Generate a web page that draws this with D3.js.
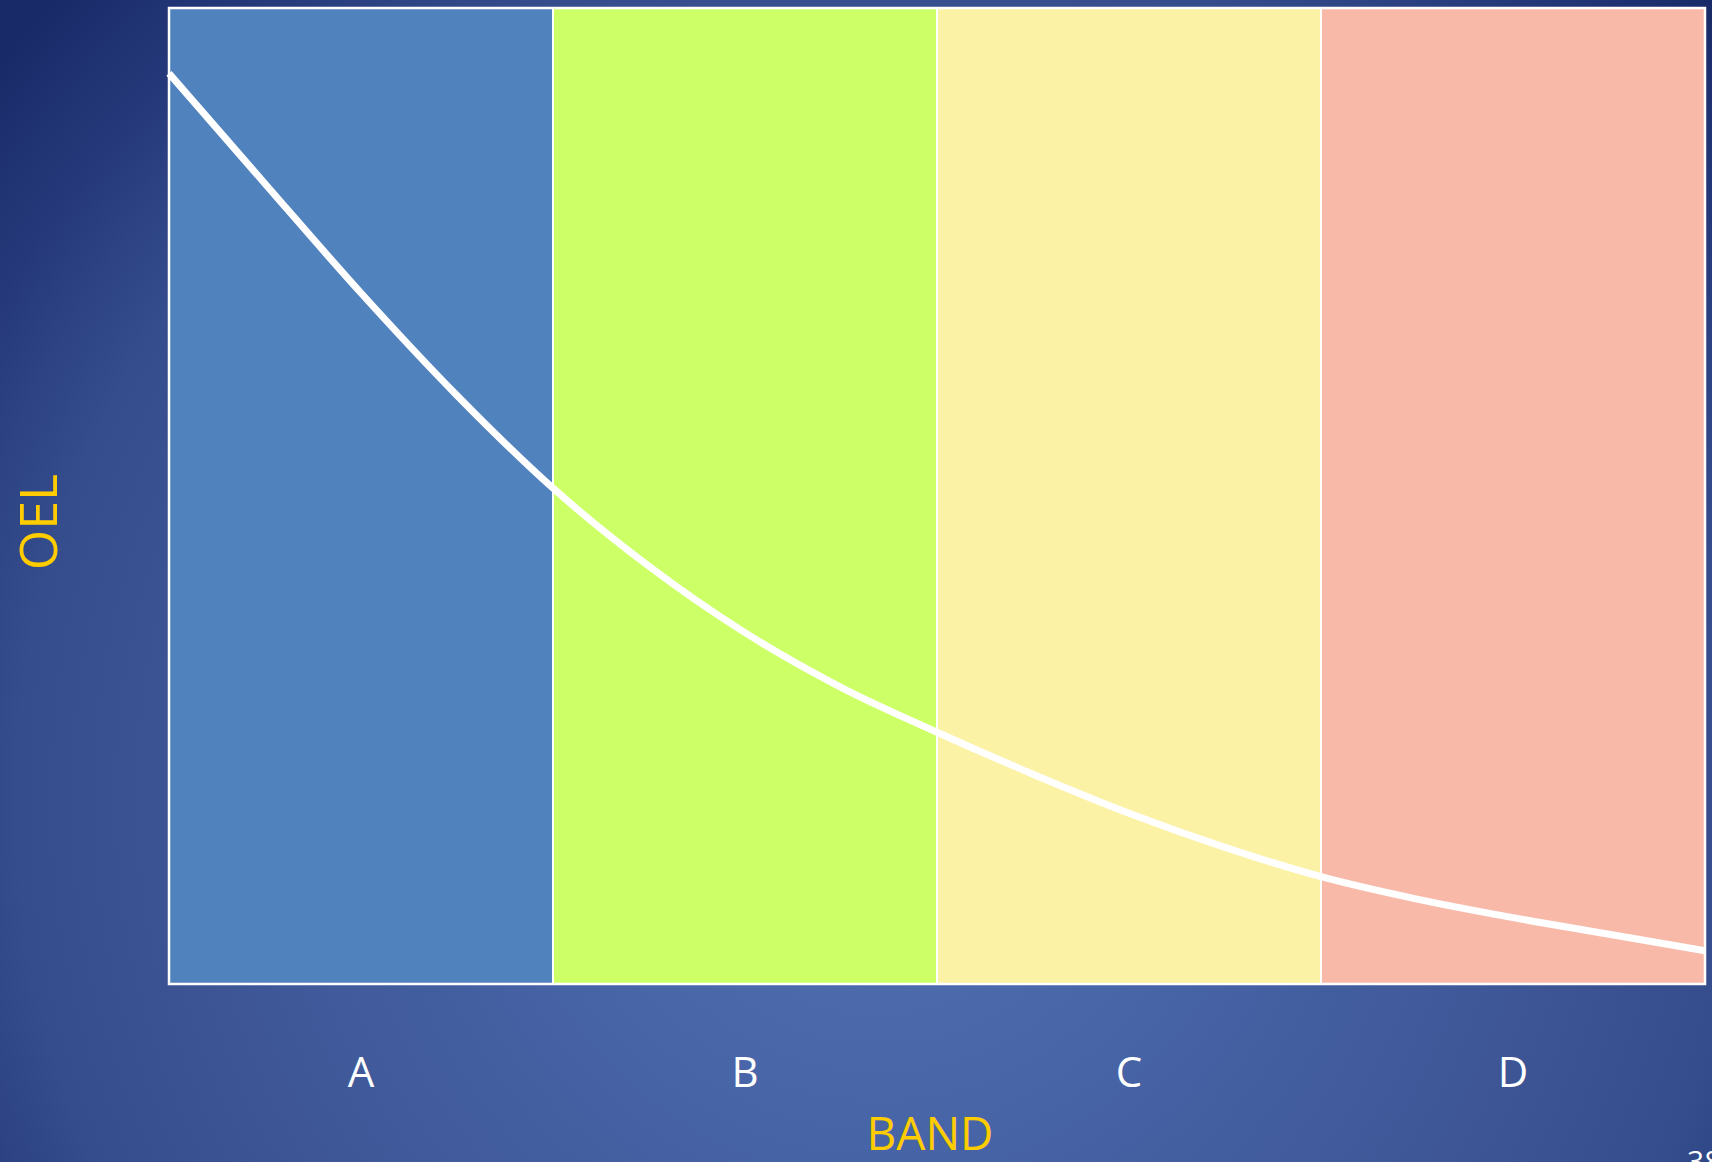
<!DOCTYPE html>
<html>
<head>
<meta charset="utf-8">
<script src="https://cdn.jsdelivr.net/npm/d3@7"></script>
<style>
  html, body { margin: 0; padding: 0; background: #1b2d6a; overflow: hidden; }
  svg { display: block; }
</style>
</head>
<body>
<svg id="chart" width="1712" height="1162"></svg>
<script>
// Exposure bands and their fill colours
const bands = ["A", "B", "C", "D"];
const bandColors = ["#5082be", "#cdff66", "#fcf2a5", "#f8b9a9"];

// OEL curve: position along the band axis (0..4) and relative OEL level (0..100)
const curveX = [0, 0.25, 0.5, 0.75, 1.0, 1.25, 1.5, 1.75, 2.0,
                2.25, 2.5, 2.75, 3.0, 3.25, 3.5, 3.75, 4.0];
const curveY = [93.3, 82.0, 70.8, 60.3, 50.8, 42.8, 36.0, 30.4, 25.8,
                21.5, 17.5, 14.0, 11.0, 8.7, 6.8, 5.1, 3.4];

const xTitle = "BAND";
const yTitle = "OEL";
const pageNumber = "38";

const W = 1712, H = 1162;
const plot = { left: 169, right: 1705, top: 8, bottom: 984 };
const font = "'Open Sans', 'Noto Sans', sans-serif";

const svg = d3.select("#chart");

// Slide background: radial gradient, brighter toward the lower centre
const defs = svg.append("defs");
const grad = defs.append("radialGradient")
  .attr("id", "bg")
  .attr("gradientUnits", "userSpaceOnUse")
  .attr("cx", 880).attr("cy", 800).attr("r", 1150);
[[0, "#5272b2"], [0.3, "#4764a6"], [0.6, "#3d5595"], [0.75, "#354d8d"],
 [0.88, "#25397a"], [1, "#192a68"]].forEach(([o, c]) =>
  grad.append("stop").attr("offset", o).attr("stop-color", c));
svg.append("rect").attr("width", W).attr("height", H).attr("fill", "url(#bg)");

const xBand = d3.scaleBand().domain(bands).range([plot.left, plot.right]).padding(0);
const xLin = d3.scaleLinear().domain([0, bands.length]).range([plot.left, plot.right]);
const y = d3.scaleLinear().domain([0, 100]).range([plot.bottom, plot.top]);

// Coloured band columns
svg.append("g").selectAll("rect")
  .data(bands)
  .join("rect")
  .attr("x", d => xBand(d))
  .attr("y", plot.top)
  .attr("width", xBand.bandwidth())
  .attr("height", plot.bottom - plot.top)
  .attr("fill", (d, i) => bandColors[i])
  .attr("stroke", "#ffffff")
  .attr("stroke-width", 2);

// Outer frame
svg.append("rect")
  .attr("x", plot.left).attr("y", plot.top)
  .attr("width", plot.right - plot.left).attr("height", plot.bottom - plot.top)
  .attr("fill", "none").attr("stroke", "#ffffff").attr("stroke-width", 2.5);

// OEL decay curve
const pts = curveX.map((v, i) => [v, curveY[i]]);
const line = d3.line()
  .x(d => xLin(d[0]))
  .y(d => y(d[1]))
  .curve(d3.curveMonotoneX);
svg.append("path")
  .datum(pts)
  .attr("d", line)
  .attr("fill", "none")
  .attr("stroke", "#ffffff")
  .attr("stroke-width", 7);

// Band labels below the plot
const xAxis = d3.axisBottom(xBand).tickSize(0).tickPadding(0);
const gx = svg.append("g")
  .attr("transform", `translate(0, 1087)`)
  .call(xAxis);
gx.select(".domain").remove();
gx.selectAll("text")
  .attr("dy", 0)
  .attr("fill", "#ffffff")
  .attr("font-family", font)
  .attr("font-size", 42);

// Axis titles
svg.append("text")
  .attr("x", 930).attr("y", 1150)
  .attr("text-anchor", "middle")
  .attr("fill", "#ffcc00")
  .attr("font-family", font)
  .attr("font-size", 46)
  .text(xTitle);

svg.append("text")
  .attr("transform", "translate(57, 522) rotate(-90)")
  .attr("text-anchor", "middle")
  .attr("fill", "#ffcc00")
  .attr("font-family", font)
  .attr("font-size", 52)
  .text(yTitle);

// Slide number, partly off the bottom edge
svg.append("text")
  .attr("x", 1687).attr("y", 1172)
  .attr("fill", "#ffffff")
  .attr("font-family", font)
  .attr("font-size", 30)
  .text(pageNumber);
</script>
</body>
</html>
